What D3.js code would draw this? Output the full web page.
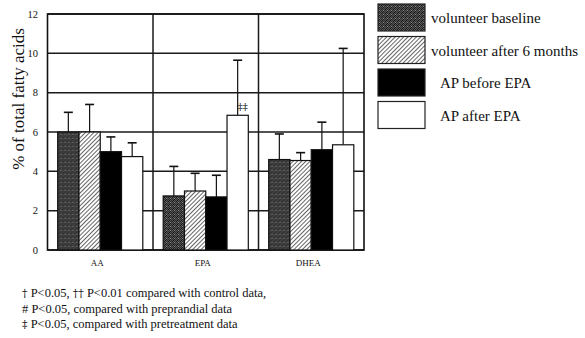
<!DOCTYPE html>
<html>
<head>
<meta charset="utf-8">
<script src="https://cdn.jsdelivr.net/npm/d3@7"></script>
<style>
  body { margin: 0; background: #fff; }
  svg { display: block; }
  text { font-family: "Liberation Serif", "Times New Roman", serif; fill: #111; }
  .sym { font-family: "DejaVu Serif", serif; }
</style>
</head>
<body>
<svg id="canvas" width="585" height="338"></svg>
<script>
"use strict"

const categories = ["AA", "EPA", "DHEA"]
const series = ["volunteer baseline", "volunteer after 6 months", "AP before EPA", "AP after EPA"]
// mean values per series, in category order
const baseline = [6.0, 2.75, 4.6]
const after6m = [6.0, 3.0, 4.55]
const apBefore = [5.0, 2.7, 5.1]
const apAfter = [4.75, 6.85, 5.35]
// upper error (SD) per series
const baselineErr = [1.0, 1.5, 1.3]
const after6mErr = [1.4, 0.9, 0.4]
const apBeforeErr = [0.75, 1.1, 1.4]
const apAfterErr = [0.7, 2.8, 4.9]
const yTicks = [0, 2, 4, 6, 8, 10, 12]
// footnote lines, split so the dagger marks can use a font that has them
const footnotes = [
  [["\u2020", 1], [" P<0.05, ", 0], ["\u2020\u2020", 1], [" P<0.01 compared with control data,", 0]],
  [["# P<0.05, compared with preprandial data", 0]],
  [["\u2021", 1], [" P<0.05, compared with pretreatment data", 0]]
]

const means = [baseline, after6m, apBefore, apAfter]
const errs = [baselineErr, after6mErr, apBeforeErr, apAfterErr]
const fills = ["url(#dots)", "url(#hatch)", "#000", "#fff"]

const margin = {left: 47.5, top: 14, right: 364, bottom: 250}

const svg = d3.select("#canvas")

// patterns
const defs = svg.append("defs")
const dots = defs.append("pattern")
  .attr("id", "dots").attr("width", 4).attr("height", 4)
  .attr("patternUnits", "userSpaceOnUse")
dots.append("rect").attr("width", 4).attr("height", 4).attr("fill", "#555")
;[[0,0],[2,0],[1,1],[3,1],[0,2],[2,2],[1,3],[3,3]].forEach(([a,b], i) => {
  dots.append("rect").attr("x", a).attr("y", b).attr("width", 1).attr("height", 1)
    .attr("fill", i % 3 == 0 ? "#151515" : "#2c2c2c")
})
dots.append("rect").attr("x", 1).attr("y", 2).attr("width", 1).attr("height", 1).attr("fill", "#8a8a8a")

const hatch = defs.append("pattern")
  .attr("id", "hatch").attr("width", 3).attr("height", 3)
  .attr("patternUnits", "userSpaceOnUse")
  .attr("patternTransform", "rotate(45)")
hatch.append("rect").attr("width", 3).attr("height", 3).attr("fill", "#fff")
hatch.append("line").attr("x1", 0).attr("y1", 0).attr("x2", 0).attr("y2", 3)
  .attr("stroke", "#111").attr("stroke-width", 1.3)

const x0 = d3.scaleBand().domain(categories).range([margin.left, margin.right])
const x1 = d3.scaleBand().domain(d3.range(series.length)).range([10.2, x0.bandwidth() - 10.2])
const y = d3.scaleLinear().domain([0, 12]).range([margin.bottom, margin.top])

// grid
svg.append("g").selectAll("line").data(yTicks).enter().append("line")
  .attr("x1", margin.left).attr("x2", margin.right)
  .attr("y1", d => y(d)).attr("y2", d => y(d))
  .attr("stroke", "#1a1a1a").attr("stroke-width", 1.5)
svg.append("g").selectAll("line").data(categories.slice(1)).enter().append("line")
  .attr("x1", d => x0(d)).attr("x2", d => x0(d))
  .attr("y1", margin.top).attr("y2", margin.bottom)
  .attr("stroke", "#1a1a1a").attr("stroke-width", 1.5)
svg.append("rect")
  .attr("x", margin.left).attr("y", margin.top)
  .attr("width", margin.right - margin.left).attr("height", margin.bottom - margin.top)
  .attr("fill", "none").attr("stroke", "#111").attr("stroke-width", 1.6)

// y axis labels
svg.append("g").selectAll("text").data(yTicks).enter().append("text")
  .attr("x", 38).attr("y", d => y(d) + 3.5)
  .attr("text-anchor", "end").attr("font-size", 10.5)
  .text(d => d)

svg.append("text")
  .attr("transform", "translate(24,99) rotate(-90)")
  .attr("text-anchor", "middle").attr("font-size", 17)
  .text("% of total fatty acids")

// category labels
svg.append("g").selectAll("text").data(categories).enter().append("text")
  .attr("x", d => x0(d) + x0.bandwidth() / 2 - 3)
  .attr("y", 266)
  .attr("text-anchor", "middle").attr("font-size", 9)
  .text(d => d)

// bars
const groups = svg.append("g").selectAll("g").data(categories).enter().append("g")
  .attr("transform", d => "translate(" + x0(d) + ",0)")

groups.each(function(cat, ci) {
  const g = d3.select(this)
  series.forEach((s, si) => {
    const v = means[si][ci]
    const e = errs[si][ci]
    const cx = x1(si) + x1.bandwidth() / 2
    g.append("line")
      .attr("x1", cx).attr("x2", cx).attr("y1", y(v)).attr("y2", y(v + e))
      .attr("stroke", "#111").attr("stroke-width", 1.2)
    g.append("line")
      .attr("x1", cx - 4.5).attr("x2", cx + 4.5).attr("y1", y(v + e)).attr("y2", y(v + e))
      .attr("stroke", "#111").attr("stroke-width", 1.6)
    g.append("rect")
      .attr("x", x1(si)).attr("y", y(v))
      .attr("width", x1.bandwidth()).attr("height", y(0) - y(v))
      .attr("fill", fills[si]).attr("stroke", "#111").attr("stroke-width", 1.2)
    if (ci == 1 && si == 3) {
      g.append("text")
        .attr("class", "sym")
        .attr("x", cx + 5).attr("y", y(v) - 5)
        .attr("text-anchor", "middle").attr("font-size", 10)
        .text("\u2021\u2021")
    }
  })
})

// legend
const legend = svg.append("g").selectAll("g").data(series).enter().append("g")
  .attr("transform", (d, i) => "translate(378," + (4 + i * 32.5) + ")")
legend.append("rect")
  .attr("width", 47).attr("height", 27)
  .attr("fill", (d, i) => fills[i]).attr("stroke", "#222").attr("stroke-width", 1.2)
legend.append("text")
  .attr("x", (d, i) => i < 2 ? 53 : 62).attr("y", 19)
  .attr("font-size", 15)
  .text(d => d)

// footnotes
svg.append("g").selectAll("text").data(footnotes).enter().append("text")
  .attr("x", 22).attr("y", (d, i) => 297 + i * 15.5)
  .attr("font-size", 12.5)
  .selectAll("tspan").data(d => d).enter().append("tspan")
    .attr("class", d => d[1] ? "sym" : null)
    .attr("font-size", d => d[1] ? 11 : null)
    .text(d => d[0])
</script>
</body>
</html>
